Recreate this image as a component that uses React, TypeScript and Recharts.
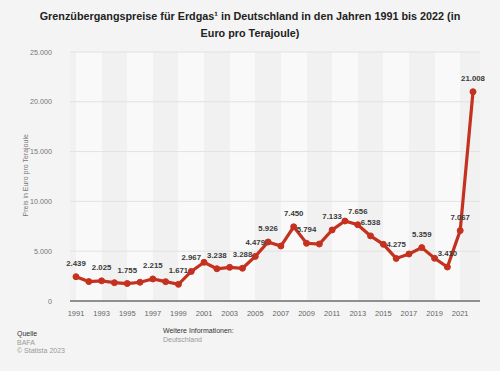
import { LineChart, Line, XAxis, YAxis, CartesianGrid, LabelList } from 'recharts';

const years = [
  '1991', '1992', '1993', '1994', '1995', '1996', '1997', '1998', '1999', '2000',
  '2001', '2002', '2003', '2004', '2005', '2006', '2007', '2008', '2009', '2010',
  '2011', '2012', '2013', '2014', '2015', '2016', '2017', '2018', '2019', '2020',
  '2021', '2022',
];

const prices = [
  2439, 1950, 2025, 1840, 1755, 1880, 2215, 1940, 1671, 2967,
  3885, 3238, 3380, 3288, 4479, 5926, 5520, 7450, 5794, 5720,
  7133, 8030, 7656, 6538, 5690, 4275, 4720, 5359, 4290, 3410,
  7067, 21008,
];

// which points carry a value label
const labelled = [
  true, false, true, false, true, false, true, false, true, true,
  false, true, false, true, true, true, false, true, true, false,
  true, false, true, true, false, true, false, true, false, true,
  true, true,
];

const yTicks = [0, 5000, 10000, 15000, 20000, 25000];

const data = years.map((year, i) => ({ year, price: prices[i] }));

const fmt = (v: number) => v.toLocaleString('de-DE');

const FONT = '"Liberation Sans", Arial, Helvetica, sans-serif';
const RED = '#c4321f';

function ValueLabel(props: any) {
  const { x, y, value, index } = props;
  if (!labelled[index]) return null;
  return (
    <text
      x={x}
      y={y - 11}
      textAnchor="middle"
      fontSize={7.8}
      fontWeight="bold"
      fill="#3a3a3a"
      fontFamily={FONT}
    >
      {fmt(value)}
    </text>
  );
}

export default function App() {
  return (
    <div
      style={{
        position: 'absolute',
        left: 0,
        top: 0,
        width: 500,
        height: 371,
        background: '#f4f4f4',
        fontFamily: FONT,
      }}
    >
      {/* Title */}
      <div
        style={{
          position: 'absolute',
          top: 8,
          left: 30,
          width: 440,
          textAlign: 'center',
          fontSize: 10.8,
          fontWeight: 'bold',
          lineHeight: '17px',
          color: '#222',
        }}
      >
        Grenzübergangspreise für Erdgas¹ in Deutschland in den Jahren 1991 bis 2022 (in Euro pro Terajoule)
      </div>

      <LineChart
        width={500}
        height={371}
        data={data}
        margin={{ top: 52, right: 20, bottom: 50, left: 8 }}
        style={{ position: 'absolute', left: 0, top: 0 }}
      >
        <CartesianGrid
          horizontal={false}
          vertical={true}
          stroke="none"
          verticalFill={['#f1f1f1', '#f9f9f9']}
        />
        <CartesianGrid horizontal={true} vertical={false} stroke="#e2e2e2" strokeWidth={1} />
        <XAxis
          dataKey="year"
          interval={1}
          padding={{ left: 6, right: 7 }}
          axisLine={{ stroke: '#333', strokeWidth: 1 }}
          tickLine={false}
          tick={{ fill: '#666', fontSize: 7.5, fontFamily: FONT }}
          tickMargin={4}
          height={20}
        />
        <YAxis
          ticks={yTicks}
          domain={[0, 25000]}
          tickFormatter={fmt}
          axisLine={false}
          tickLine={false}
          tick={{ fill: '#777', fontSize: 7.2, fontFamily: FONT }}
          width={62}
          tickMargin={12}
          label={{
            value: 'Preis in Euro pro Terajoule',
            angle: -90,
            position: 'insideLeft',
            dx: 13,
            dy: 40,
            style: { fill: '#777', fontSize: 7, fontFamily: FONT },
          }}
        />
        <Line
          type="linear"
          dataKey="price"
          stroke={RED}
          strokeWidth={3.2}
          dot={{ r: 3, fill: RED, stroke: RED, strokeWidth: 1 }}
          isAnimationActive={false}
        >
          <LabelList dataKey="price" content={<ValueLabel />} />
        </Line>
      </LineChart>

      {/* Footer */}
      <div style={{ position: 'absolute', left: 17, top: 330, fontSize: 7, lineHeight: '8.5px' }}>
        <div style={{ color: '#333' }}>Quelle</div>
        <div style={{ color: '#999' }}>BAFA</div>
        <div style={{ color: '#999' }}>© Statista 2023</div>
      </div>
      <div style={{ position: 'absolute', left: 163, top: 327, fontSize: 7, lineHeight: '8.5px' }}>
        <div style={{ color: '#333' }}>Weitere Informationen:</div>
        <div style={{ color: '#999' }}>Deutschland</div>
      </div>
    </div>
  );
}
